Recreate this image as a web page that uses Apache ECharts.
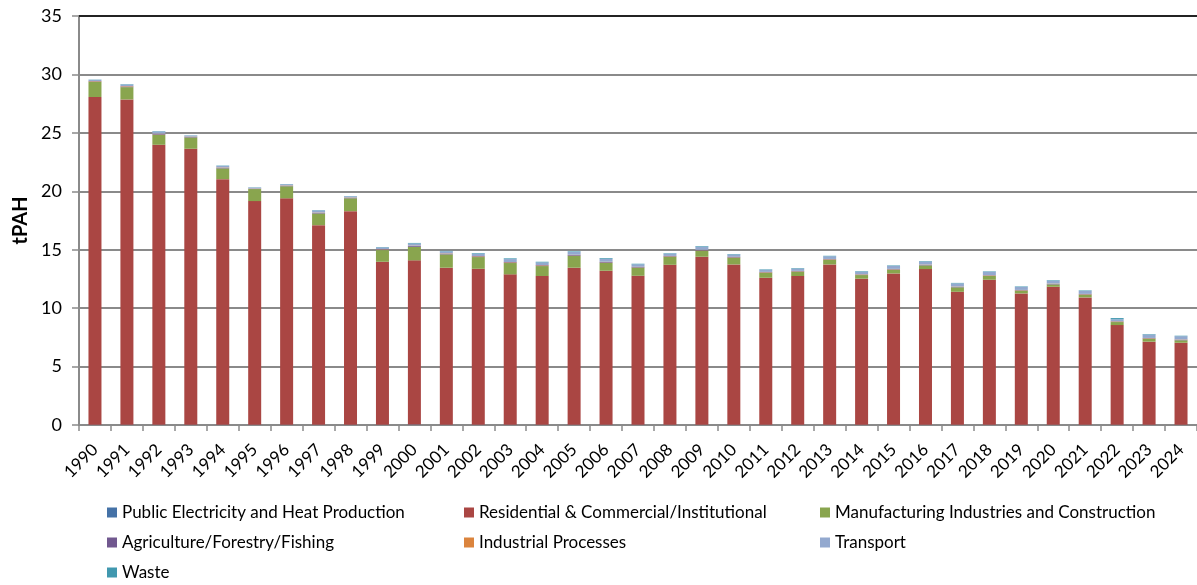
<!DOCTYPE html>
<html><head><meta charset="utf-8">
<script src="https://cdn.jsdelivr.net/npm/echarts@6/dist/echarts.min.js"></script>
<style>html,body{margin:0;padding:0;background:#fff}#c{width:1197px;height:585px}</style>
</head><body><div id="c"></div>
<script>
const years = ['1990','1991','1992','1993','1994','1995','1996','1997','1998','1999','2000','2001','2002','2003','2004','2005','2006','2007','2008','2009','2010','2011','2012','2013','2014','2015','2016','2017','2018','2019','2020','2021','2022','2023','2024'];
const publicElectricity = [0.03,0.03,0.03,0.03,0.03,0.03,0.03,0.03,0.03,0.03,0.04,0.03,0.03,0.03,0.03,0.03,0.03,0.03,0.02,0.02,0.02,0.02,0.02,0.02,0.02,0.02,0.02,0.02,0.02,0.02,0.02,0.02,0.02,0.02,0.02];
const residential = [28.04,27.83,23.95,23.61,21.01,19.13,19.37,17.07,18.27,13.94,14.05,13.43,13.34,12.86,12.72,13.43,13.17,12.74,13.69,14.38,13.72,12.58,12.73,13.72,12.50,12.95,13.32,11.38,12.41,11.24,11.81,10.90,8.53,7.11,7.02];
const manufacturing = [1.30,1.05,0.85,0.97,0.92,1.03,1.03,1.00,1.10,1.00,1.16,1.14,1.00,0.97,0.85,1.02,0.68,0.69,0.68,0.51,0.57,0.43,0.37,0.40,0.31,0.32,0.32,0.38,0.32,0.23,0.20,0.23,0.26,0.25,0.21];
const agriculture = [0.04,0.05,0.06,0.04,0.05,0.03,0.04,0.05,0.04,0.05,0.07,0.06,0.06,0.06,0.06,0.06,0.06,0.05,0.05,0.05,0.05,0.04,0.04,0.04,0.04,0.04,0.04,0.04,0.04,0.04,0.04,0.04,0.04,0.04,0.04];
const industrial = [0.03,0.04,0.04,0.03,0.03,0.02,0.03,0.03,0.03,0.03,0.03,0.03,0.03,0.03,0.03,0.03,0.03,0.03,0.03,0.03,0.03,0.03,0.03,0.03,0.03,0.03,0.03,0.03,0.03,0.03,0.03,0.03,0.03,0.03,0.03];
const transport = [0.10,0.14,0.19,0.09,0.13,0.08,0.10,0.18,0.10,0.15,0.18,0.17,0.20,0.25,0.22,0.24,0.26,0.21,0.19,0.27,0.20,0.18,0.20,0.23,0.23,0.26,0.26,0.27,0.29,0.26,0.26,0.26,0.17,0.29,0.28];
const waste = [0.02,0.03,0.03,0.02,0.03,0.02,0.02,0.03,0.02,0.03,0.05,0.04,0.05,0.06,0.06,0.05,0.06,0.05,0.04,0.05,0.04,0.04,0.04,0.04,0.04,0.04,0.04,0.04,0.04,0.04,0.04,0.04,0.10,0.04,0.04];
const seriesNames = ['Public Electricity and Heat Production','Residential & Commercial/Institutional','Manufacturing Industries and Construction','Agriculture/Forestry/Fishing','Industrial Processes','Transport','Waste'];
const colors = ['#4572A7','#AA4643','#89A54E','#71588F','#DB843D','#93A9CF','#4198AF'];
const yTicks = [0,5,10,15,20,25,30,35];

const dataSets = [publicElectricity,residential,manufacturing,agriculture,industrial,transport,waste];
const font = 'Lato, "Liberation Sans", sans-serif';
const legendPos = [[107,504],[464,504],[820,504],[107,534],[464,534],[820,534],[107,564]];

const chart = echarts.init(document.getElementById('c'), null, {renderer:'canvas'});
chart.setOption({
  animation:false,
  color: colors,
  grid:{left:79,right:0,top:16,bottom:160,containLabel:false},
  legend: seriesNames.map((n,i)=>({
    data:[n], left:legendPos[i][0], top:legendPos[i][1], itemWidth:10, itemHeight:10, itemGap:0,
    icon:'rect', padding:0, textStyle:{fontFamily:font,fontSize:17,color:'#000',padding:[0,0,0,0]}
  })),
  xAxis:{type:'category',data:years,
    axisLine:{lineStyle:{color:'#8a8a8a',width:2}},
    axisTick:{show:true,length:6,lineStyle:{color:'#8a8a8a',width:1.5}},
    axisLabel:{rotate:45,fontFamily:font,fontSize:17,color:'#000',margin:22,interval:0}
  },
  yAxis:{type:'value',min:0,max:35,interval:5,
    name:'tPAH',nameLocation:'middle',nameRotate:90,nameGap:47,
    nameTextStyle:{fontFamily:font,fontSize:20,fontWeight:'bold',color:'#000'},
    axisLine:{show:true,lineStyle:{color:'#8a8a8a',width:2}},
    axisTick:{show:true,length:7,lineStyle:{color:'#8a8a8a',width:1.5}},
    axisLabel:{fontFamily:font,fontSize:18,color:'#000',margin:17,
      formatter:v=> yTicks.includes(v)? String(v):''},
    splitLine:{lineStyle:{color:'#8a8a8a',width:2}}
  },
  series: seriesNames.map((n,i)=>({
    name:n,type:'bar',stack:'total',data:dataSets[i],barWidth:13,
    itemStyle:{color:colors[i]},
    markLine: i===0 ? {silent:true,symbol:'none',label:{show:false},
      lineStyle:{color:'#000',width:1.5,type:'solid'},data:[{yAxis:35}]} : undefined
  }))
});
</script></body></html>
